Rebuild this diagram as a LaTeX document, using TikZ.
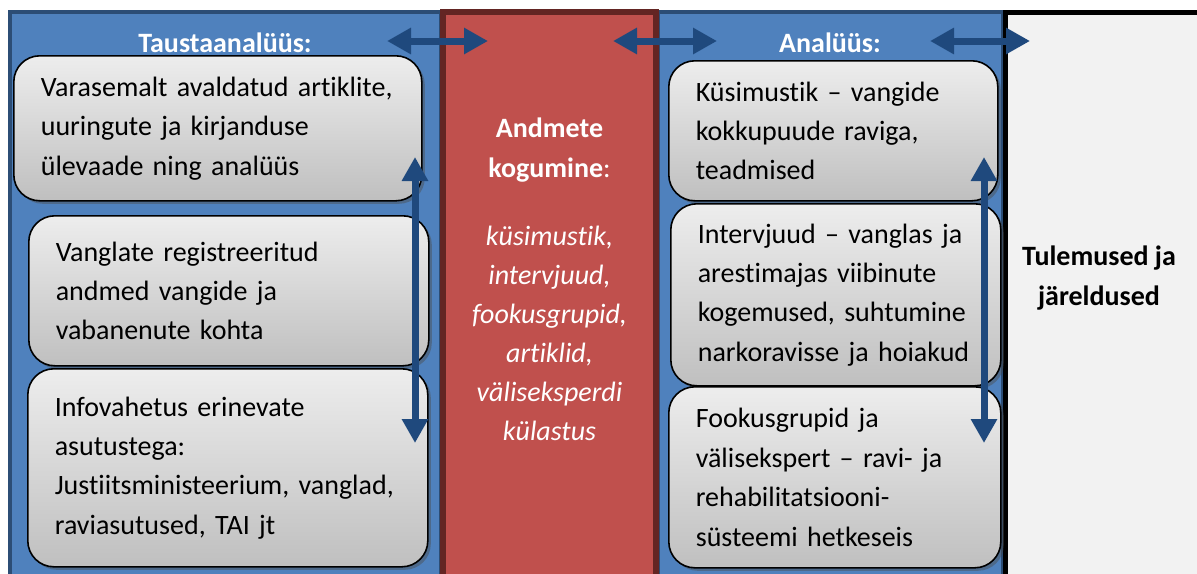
\documentclass[tikz,border=0pt]{standalone}
\usepackage{fontspec}
\setmainfont{Carlito}[Ligatures=NoCommon]
\usetikzlibrary{arrows.meta,shadows,positioning}

\definecolor{sinine}{RGB}{79,129,189}
\definecolor{sininetume}{RGB}{44,77,117}
\definecolor{punane}{RGB}{192,80,77}
\definecolor{punanetume}{RGB}{99,37,35}
\definecolor{nooleke}{RGB}{31,73,125}
\definecolor{hall}{RGB}{242,242,242}

\begin{document}
\begin{tikzpicture}[x=0.5pt,y=-0.5pt,
kast/.style={anchor=north west, draw=black, line width=0.8pt, rounded corners=13pt,
  top color=black!7, bottom color=black!25,
  drop shadow={shadow xshift=1.5pt, shadow yshift=-1.5pt, opacity=.45, fill=black!70},
  align=left, inner xsep=13.5pt, inner ysep=0pt, text=black,
  font=\fontsize{14}{19.7}\selectfont},
pealkiri/.style={text=white, font=\fontsize{14}{19.7}\selectfont\bfseries},
nool/.style={{Triangle[length=12pt,width=12.5pt]}-{Triangle[length=12pt,width=12.5pt]},
  line width=3.5pt, draw=nooleke}]
\useasboundingbox (0,0) rectangle (1197,573);
\clip (0,0) rectangle (1197,573);
% tagapaneelid
\draw[fill=sinine, draw=sininetume, line width=2pt] (10,12) rectangle (441,620);
\draw[fill=sinine, draw=sininetume, line width=2pt] (658,12) rectangle (1003,620);
\draw[fill=punane, draw=punanetume, line width=3pt] (443,12) rectangle (656,620);
\draw[fill=hall, draw=black, line width=2.5pt] (1005.5,12.5) rectangle (1230,620);

\node[pealkiri] (taust) at (225,43) {Taustaanalüüs:};
\node[pealkiri] (analyys) at (830,43) {Analüüs:};

% vasak veerg
\node[kast, minimum width=204pt, minimum height=72.5pt, text width=177pt] (k1) at (13,55)
  {Varasemalt avaldatud artiklite,\\uuringute ja kirjanduse\\ülevaade ning analüüs};
\node[kast, minimum width=200pt, minimum height=75pt, text width=173pt] (k2) at (28,215)
  {Vanglate registreeritud\\andmed vangide ja\\vabanenute kohta};
\node[kast, minimum width=200pt, minimum height=99pt, text width=173pt] (k3) at (27,368)
  {Infovahetus erinevate\\asutustega:\\Justiitsministeerium, vanglad,\\raviasutused, TAI jt};

% keskmine veerg
\node[pealkiri, align=center] (kogu) at (549.5,150) {Andmete\\kogumine\mdseries:};
\node[text=white, align=center, font=\fontsize{14}{19.5}\selectfont\itshape] (meetod) at (549.5,333)
  {küsimustik,\\intervjuud,\\fookusgrupid,\\artiklid,\\väliseksperdi\\külastus};

% parem veerg
\node[kast, minimum width=164.5pt, minimum height=70pt, text width=137.5pt] (k4) at (668,60)
  {Küsimustik – vangide\\kokkupuude raviga,\\teadmised};
\node[kast, minimum width=165pt, minimum height=91pt, text width=138pt] (k5) at (670,203)
  {Intervjuud – vanglas ja\\arestimajas viibinute\\kogemused, suhtumine\\narkoravisse ja hoiakud};
\node[kast, minimum width=166pt, minimum height=90.5pt, text width=139pt] (k6) at (668,386)
  {Fookusgrupid ja\\välisekspert – ravi- ja\\rehabilitatsiooni-\\süsteemi hetkeseis};

\node[align=center, font=\fontsize{14}{19.7}\selectfont\bfseries] (tulem) at (1099,278)
  {Tulemused ja\\järeldused};

% nooled
\coordinate (n1a) at (387,41); \coordinate (n1b) at (488,41);
\coordinate (n2a) at (613,41); \coordinate (n2b) at (717,41);
\coordinate (n3a) at (930,41); \coordinate (n3b) at (1030,41);
\coordinate (v1a) at (415,157); \coordinate (v1b) at (415,443);
\coordinate (v2a) at (984,157); \coordinate (v2b) at (984,443);
\draw[nool] (n1a) -- (n1b);
\draw[nool] (n2a) -- (n2b);
\draw[nool] (n3a) -- (n3b);
\draw[nool] (v1a) -- (v1b);
\draw[nool] (v2a) -- (v2b);
\end{tikzpicture}
\end{document}
